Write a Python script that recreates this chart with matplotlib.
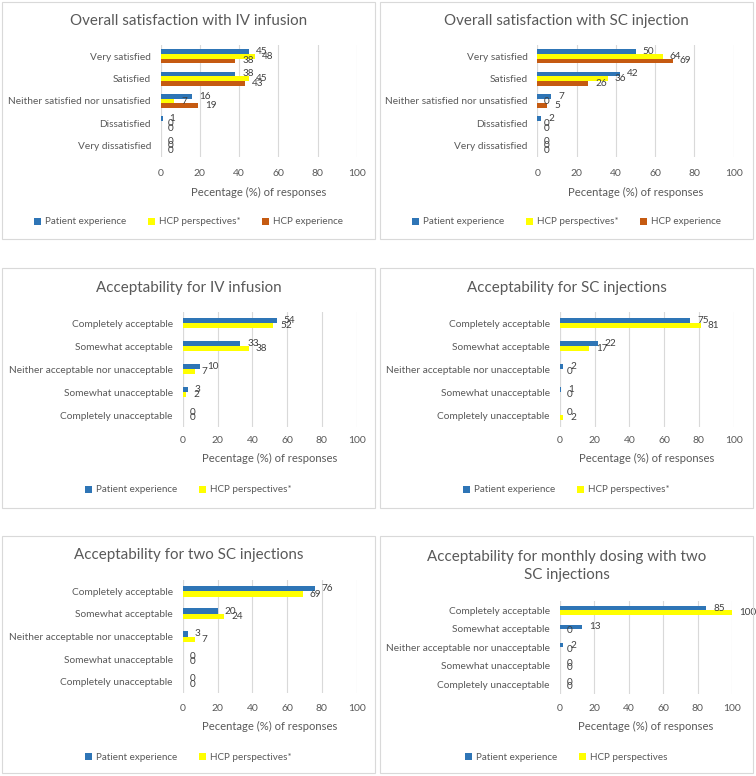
import numpy as np
import matplotlib.pyplot as plt
from matplotlib.patches import Rectangle

plt.rcParams['font.family'] = ['Lato', 'DejaVu Sans']

W, H = 756, 776

# categories
sat_cats = ['Very satisfied', 'Satisfied', 'Neither satisfied nor unsatisfied',
            'Dissatisfied', 'Very dissatisfied']
acc_cats = ['Completely acceptable', 'Somewhat acceptable',
            'Neither acceptable nor unacceptable', 'Somewhat unacceptable',
            'Completely unacceptable']

# series values (%)
iv_sat_patient = [45, 38, 16, 1, 0]
iv_sat_hcp_persp = [48, 45, 7, 0, 0]
iv_sat_hcp_exp = [38, 43, 19, 0, 0]

sc_sat_patient = [50, 42, 7, 2, 0]
sc_sat_hcp_persp = [64, 36, 0, 0, 0]
sc_sat_hcp_exp = [69, 26, 5, 0, 0]

iv_acc_patient = [54, 33, 10, 3, 0]
iv_acc_hcp = [52, 38, 7, 2, 0]

sc_acc_patient = [75, 22, 2, 1, 0]
sc_acc_hcp = [81, 17, 0, 0, 2]

two_sc_patient = [76, 20, 3, 0, 0]
two_sc_hcp = [69, 24, 7, 0, 0]

monthly_patient = [85, 13, 2, 0, 0]
monthly_hcp = [100, 0, 0, 0, 0]

xticks = [0, 20, 40, 60, 80, 100]

BLUE = '#2E75B6'
YELLOW = '#FFFF00'
ORANGE = '#C55A11'
TXT = '#595959'

fig = plt.figure(figsize=(W / 100, H / 100), dpi=100)


def box(x0, y0, x1, y1):
    r = Rectangle((x0 / W, 1 - y1 / H), (x1 - x0) / W, (y1 - y0) / H,
                  transform=fig.transFigure, fill=False, edgecolor='#D9D9D9', lw=0.8)
    fig.patches.append(r)


def panel(boxpx, axpx, title, title_y, cats, series, names, colors, bar_h,
          tick_y, label_y, legend_y):
    bx0, by0, bx1, by1 = boxpx
    box(bx0, by0, bx1, by1)
    x0, y0, x1, y1 = axpx
    ax = fig.add_axes([x0 / W, 1 - y1 / H, (x1 - x0) / W, (y1 - y0) / H])
    n = len(series)
    y = np.arange(len(cats))
    for k, (vals, name, col) in enumerate(zip(series, names, colors)):
        yy = y + (k - (n - 1) / 2) * bar_h
        ax.barh(yy, vals, height=bar_h, color=col, label=name, zorder=3)
        for v, yv in zip(vals, yy):
            ax.annotate(str(v), (v, yv), xytext=(5, 0), textcoords='offset points',
                        va='center', ha='left', fontsize=7.2, color='#404040', zorder=4)
    ax.set_xlim(0, 100)
    ax.set_ylim(len(cats) - 0.5, -0.5)
    ax.set_xticks(xticks)
    ax.set_yticks(y)
    ax.set_yticklabels(cats)
    ax.grid(axis='x', color='#D9D9D9', lw=0.8, zorder=0)
    for s in ax.spines.values():
        s.set_visible(False)
    ax.axvline(0, color='#D9D9D9', lw=0.8, zorder=1)
    ax.tick_params(axis='both', length=0, labelsize=7.3, colors=TXT)
    ax.tick_params(axis='x', pad=(tick_y - y1 - 4) * 0.72, labelsize=7.5)
    ax.tick_params(axis='y', pad=7)
    cx = (x0 + x1) / 2
    fig.text(cx / W, 1 - label_y / H, 'Pecentage (%) of responses', ha='center',
             va='center', fontsize=8.1, color=TXT)
    fig.text((bx0 + bx1) / 2 / W, 1 - title_y / H, title, ha='center', va='center',
             fontsize=10.9, color=TXT, linespacing=1.3)
    fig.legend(*ax.get_legend_handles_labels(), loc='center',
               bbox_to_anchor=((bx0 + bx1) / 2 / W, 1 - legend_y / H), ncol=n,
               frameon=False, fontsize=7.1, handlelength=0.7, handleheight=0.7,
               handletextpad=0.4, columnspacing=2.2, labelcolor=TXT)


names3 = ['Patient experience', 'HCP perspectives*', 'HCP experience']
names2 = ['Patient experience', 'HCP perspectives*']

panel((2, 2, 375, 239), (160.7, 45, 356.7, 157), 'Overall satisfaction with IV infusion', 21,
      sat_cats, [iv_sat_patient, iv_sat_hcp_persp, iv_sat_hcp_exp], names3,
      [BLUE, YELLOW, ORANGE], 0.21, 173, 192, 222)
panel((380, 2, 753, 239), (537.3, 45, 733.7, 157), 'Overall satisfaction with SC injection', 21,
      sat_cats, [sc_sat_patient, sc_sat_hcp_persp, sc_sat_hcp_exp], names3,
      [BLUE, YELLOW, ORANGE], 0.21, 173, 192, 222)
panel((2, 268, 375, 508), (182.7, 311.7, 356.7, 426.7), 'Acceptability for IV infusion', 288,
      acc_cats, [iv_acc_patient, iv_acc_hcp], names2,
      [BLUE, YELLOW], 0.22, 440, 458, 490)
panel((380, 268, 753, 508), (559.7, 311.7, 733.7, 426.7), 'Acceptability for SC injections', 288,
      acc_cats, [sc_acc_patient, sc_acc_hcp], names2,
      [BLUE, YELLOW], 0.22, 440, 458, 490)
panel((2, 536, 375, 773), (182.7, 580, 356.7, 693), 'Acceptability for two SC injections', 555,
      acc_cats, [two_sc_patient, two_sc_hcp], names2,
      [BLUE, YELLOW], 0.24, 708, 726, 757)
panel((380, 536, 753, 773), (559.7, 601, 732.3, 693.6),
      'Acceptability for monthly dosing with two\nSC injections', 566,
      acc_cats, [monthly_patient, monthly_hcp], ['Patient experience', 'HCP perspectives'],
      [BLUE, YELLOW], 0.23, 708, 726, 757)

fig.savefig('out.png', dpi=100)
